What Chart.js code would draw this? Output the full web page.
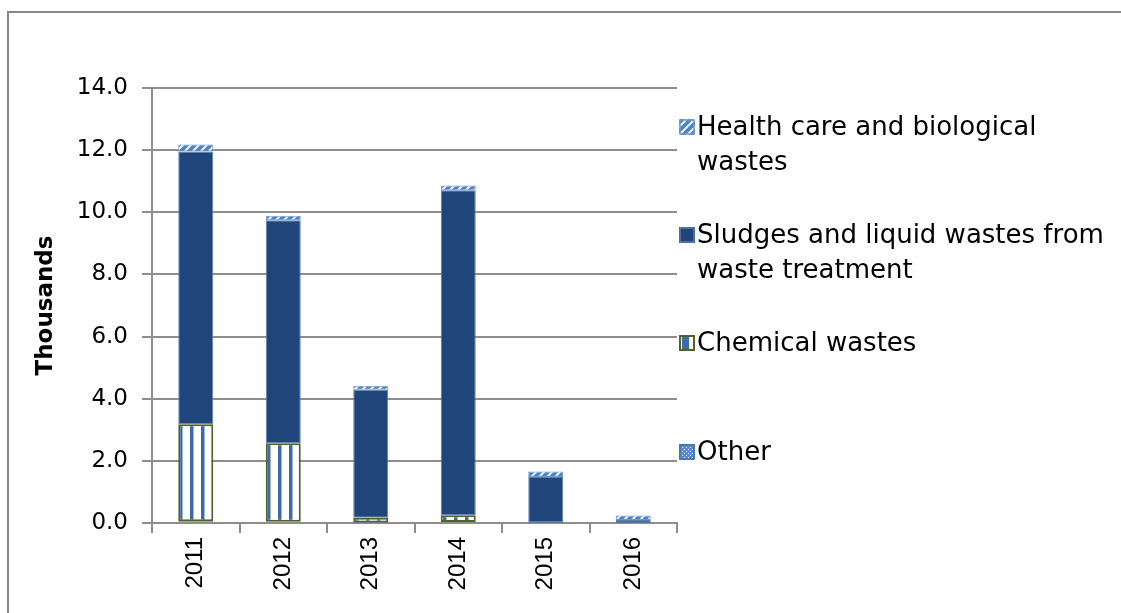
<!DOCTYPE html>
<html><head><meta charset="utf-8">
<script src="https://cdn.jsdelivr.net/npm/chart.js@4.4.1/dist/chart.umd.min.js"></script>
<style>
html,body{margin:0;padding:0;background:#fff;overflow:hidden}
#wrap{position:relative;width:1121px;height:613px;overflow:hidden}
#frame{position:absolute;left:7px;top:11px;width:1300px;height:800px;border-left:2px solid #878787;border-top:2px solid #878787}
#c{position:absolute;left:0;top:0}
.lg{position:absolute;left:679px;font-family:"DejaVu Sans",sans-serif;font-size:26px;line-height:35px;color:#000;height:70px;width:440px}
.lg canvas{position:absolute;left:0;top:10px}
.lg span{position:absolute;left:18px;top:0;white-space:nowrap}
</style></head>
<body>
<div id="wrap">
<div id="frame"></div>
<canvas id="c" width="1121" height="613"></canvas>
<div id="legend"></div>
</div>
<script>
// ---- data ----
const years = ['2011','2012','2013','2014','2015','2016'];
const otherWaste   = [0.06, 0.04, 0.02, 0.03, 0.01, 0.01];
const chemical     = [3.12, 2.53, 0.15, 0.22, 0.01, 0.00];
const sludges      = [8.78, 7.17, 4.12, 10.46, 1.46, 0.09];
const healthCare   = [0.22, 0.15, 0.13, 0.15, 0.18, 0.14];
const seriesNames = ['Other', 'Chemical wastes', 'Sludges and liquid wastes from waste treatment', 'Health care and biological wastes'];
const legendLines = [['Other'], ['Chemical wastes'], ['Sludges and liquid wastes from', 'waste treatment'], ['Health care and biological', 'wastes']];
const yTickValues = [0, 2, 4, 6, 8, 10, 12, 14];

// ---- patterns ----
function makePattern(w, h, draw) {
  const c = document.createElement('canvas');
  c.width = w; c.height = h;
  draw(c.getContext('2d'));
  return document.createElement('canvas').getContext('2d').createPattern(c, 'repeat');
}
const healthPat = makePattern(8, 8, x => {
  x.fillStyle = '#4f81bd'; x.fillRect(0, 0, 8, 8);
  x.strokeStyle = 'rgba(255,255,255,0.9)'; x.lineWidth = 2;
  x.beginPath();
  x.moveTo(0, 8); x.lineTo(8, 0);
  x.moveTo(-1, 1); x.lineTo(1, -1);
  x.moveTo(7, 9); x.lineTo(9, 7);
  x.stroke();
});
const chemPat = makePattern(11, 1, x => {
  x.fillStyle = '#ffffff'; x.fillRect(0, 0, 11, 1);
  x.fillStyle = '#3f6aa8'; x.fillRect(3, 0, 3, 1);
  x.fillStyle = '#9db6da'; x.fillRect(6, 0, 1, 1);
});
const otherPat = makePattern(4, 4, x => {
  x.fillStyle = '#5d8bc6'; x.fillRect(0, 0, 4, 4);
  x.fillStyle = '#e4ecf6'; x.fillRect(1, 1, 1, 1); x.fillRect(3, 3, 1, 1);
});
const sludgeColor = '#1f457b';

const styles = [
  {bg: otherPat, border: '#3f6faf', bw: 1},
  {bg: chemPat, border: '#4f6228', bw: 2},
  {bg: sludgeColor, border: '#5b7fb1', bw: 1},
  {bg: healthPat, border: '#6b9ad3', bw: 1}
];
const values = [otherWaste, chemical, sludges, healthCare];

const datasets = values.map((v, i) => ({
  label: seriesNames[i],
  data: v,
  backgroundColor: styles[i].bg,
  borderColor: styles[i].border,
  borderWidth: styles[i].bw,
  borderSkipped: false,
  barPercentage: 0.4,
  categoryPercentage: 1.0
}));

const gridGray = '#8e8e8e';
new Chart(document.getElementById('c'), {
  type: 'bar',
  data: {labels: years, datasets},
  options: {
    responsive: false,
    animation: false,
    layout: {padding: {left: 0, top: 88, right: 444, bottom: 0}},
    plugins: {legend: {display: false}, tooltip: {enabled: false}},
    scales: {
      x: {
        stacked: true,
        grid: {display: true, drawOnChartArea: false, drawTicks: true, tickLength: 10, color: gridGray, lineWidth: 2, offset: true},
        border: {display: true, color: gridGray, width: 2},
        ticks: {color: '#000', font: {family: 'Liberation Sans', size: 24}, maxRotation: 90, minRotation: 90, padding: 4, autoSkip: false},
        afterFit: a => { a.height = 90; }
      },
      y: {
        stacked: true,
        min: 0, max: 14,
        afterBuildTicks: a => { a.ticks = yTickValues.map(v => ({value: v})); },
        grid: {color: gridGray, lineWidth: 2, drawTicks: true, tickLength: 10},
        border: {display: true, color: gridGray, width: 2},
        ticks: {color: '#000', font: {family: 'DejaVu Sans', size: 23}, padding: 14, callback: v => Number(v).toFixed(1)},
        title: {display: true, text: 'Thousands', color: '#000', font: {family: 'DejaVu Sans', size: 23, weight: 'bold'}, padding: {top: 32, bottom: 0}},
        afterFit: a => { a.width = 152; }
      }
    }
  }
});

// ---- legend (reverse order, as in reference) ----
const legendTops = {3: 109, 2: 217, 1: 325, 0: 434};
const lg = document.getElementById('legend');
[3, 2, 1, 0].forEach(i => {
  const item = document.createElement('div');
  item.className = 'lg';
  item.style.top = legendTops[i] + 'px';
  const bx = document.createElement('canvas');
  bx.width = 16; bx.height = 16;
  const x = bx.getContext('2d');
  x.fillStyle = styles[i].bg; x.fillRect(0, 0, 16, 16);
  if (i === 1) { x.fillStyle = '#3f6aa8'; x.fillRect(6, 0, 4, 16); }
  x.strokeStyle = styles[i].border; x.lineWidth = styles[i].bw === 2 ? 2 : 1.5;
  x.strokeRect(1, 1, 14, 14);
  item.appendChild(bx);
  const sp = document.createElement('span');
  legendLines[i].forEach((t, k) => {
    if (k) sp.appendChild(document.createElement('br'));
    sp.appendChild(document.createTextNode(t));
  });
  item.appendChild(sp);
  lg.appendChild(item);
});
</script>
</body></html>
